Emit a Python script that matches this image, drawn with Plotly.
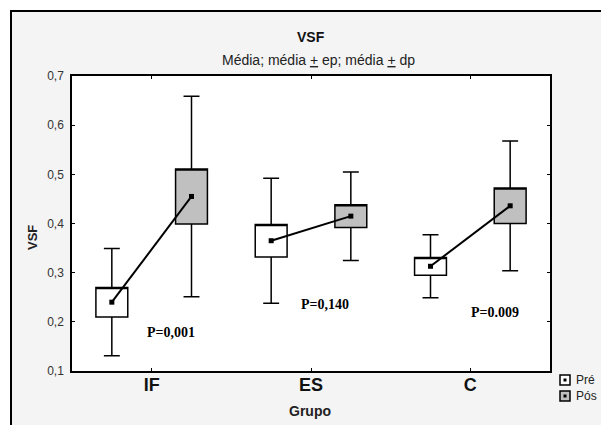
import plotly.graph_objects as go

# ---- data ----
groups = ["IF", "ES", "C"]
pre_mean = [0.240, 0.365, 0.313]
pre_se = [0.030, 0.033, 0.018]
pre_sd = [0.109, 0.127, 0.064]
pos_mean = [0.455, 0.415, 0.436]
pos_se = [0.056, 0.023, 0.036]
pos_sd = [0.204, 0.090, 0.132]
p_labels = ["P=0,001", "P=0,140", "P=0.009"]
p_x = [0.12, 1.09, 2.155]
p_y = [0.179, 0.236, 0.218]
y_ticks = [0.1, 0.2, 0.3, 0.4, 0.5, 0.6, 0.7]
y_ticktext = ["0,1", "0,2", "0,3", "0,4", "0,5", "0,6", "0,7"]

W, H = 601, 425
L, R, T, B = 72, 51, 76, 54
PW, PH = W - L - R, H - T - B


def px(x):
    return (x - L) / PW


def py(y):
    return (H - B - y) / PH


SANS = "Liberation Sans, Arial, sans-serif"
SERIF = "Liberation Serif, Times New Roman, serif"
OFF = 0.25
idx = list(range(len(groups)))

fig = go.Figure()


def add_boxes(offset, mean, se, sd, fill, name):
    xs = [i + offset for i in idx]
    q1 = [m - s for m, s in zip(mean, se)]
    q3 = [m + s for m, s in zip(mean, se)]
    lo = [m - s for m, s in zip(mean, sd)]
    hi = [m + s for m, s in zip(mean, sd)]
    fig.add_trace(go.Box(
        x=xs, q1=q1, median=q3, q3=q3, lowerfence=lo, upperfence=hi,
        width=0.2, whiskerwidth=0.5, boxpoints=False,
        fillcolor=fill, line=dict(color="black", width=1.5),
        name=name, showlegend=False, hoverinfo="skip",
    ))


add_boxes(-OFF, pre_mean, pre_se, pre_sd, "white", "Pré")
add_boxes(OFF, pos_mean, pos_se, pos_sd, "#c0c0c0", "Pós")

for i in idx:
    fig.add_trace(go.Scatter(
        x=[i - OFF, i + OFF], y=[pre_mean[i], pos_mean[i]],
        mode="lines+markers",
        line=dict(color="black", width=2),
        marker=dict(symbol="square", size=5, color="black"),
        showlegend=False, hoverinfo="skip",
    ))

annotations = []
for lab, x, y in zip(p_labels, p_x, p_y):
    annotations.append(dict(
        x=x, y=y, xref="x", yref="y", text="<b>" + lab + "</b>",
        xanchor="center", yanchor="middle",
        showarrow=False, font=dict(family=SERIF, size=14, color="black"),
    ))


def note(x, y, text, size, color="#222", **kw):
    d = dict(x=px(x), y=py(y), xref="paper", yref="paper", text=text,
             xanchor="center", yanchor="middle", showarrow=False,
             font=dict(family=SANS, size=size, color=color))
    d.update(kw)
    return d


annotations += [
    note(311, 37, "<b>VSF</b>", 14, "#111"),
    note(318, 60, 'Média; média <span style="text-decoration:underline">+</span> ep; média '
                  '<span style="text-decoration:underline">+</span> dp', 14),
    note(310, 411, "<b>Grupo</b>", 14),
    note(32, 238, "<b>VSF</b>", 13, textangle=-90),
    note(574, 380, "Pré", 12, xanchor="left"),
    note(574, 396, "Pós", 12, xanchor="left"),
]

shapes = [
    # white outside the frame
    dict(type="rect", xref="paper", yref="paper", x0=px(-20), x1=px(11), y0=py(700), y1=py(-20),
         fillcolor="white", line=dict(width=0), layer="below"),
    dict(type="rect", xref="paper", yref="paper", x0=px(-20), x1=px(700), y0=py(11), y1=py(-20),
         fillcolor="white", line=dict(width=0), layer="below"),
    # frame
    dict(type="rect", xref="paper", yref="paper", x0=px(11), x1=px(720), y0=py(720), y1=py(11),
         line=dict(color="black", width=2)),
]
# legend icons
for yc, fill in [(380, "white"), (396, "#c0c0c0")]:
    shapes.append(dict(type="rect", xref="paper", yref="paper",
                       x0=px(560), x1=px(570), y0=py(yc + 5), y1=py(yc - 5),
                       fillcolor=fill, line=dict(color="black", width=1.5)))
    shapes.append(dict(type="rect", xref="paper", yref="paper",
                       x0=px(563.5), x1=px(566.5), y0=py(yc + 1.5), y1=py(yc - 1.5),
                       fillcolor="black", line=dict(width=0)))

fig.update_layout(
    width=W, height=H,
    margin=dict(l=L, r=R, t=T, b=B, autoexpand=False),
    paper_bgcolor="#f4f4f4", plot_bgcolor="white",
    showlegend=False,
    annotations=annotations, shapes=shapes,
    xaxis=dict(range=[-0.5, 2.5], tickvals=idx, ticktext=["<b>%s</b>" % g for g in groups],
               tickfont=dict(family=SANS, size=18, color="#111"),
               showline=True, linecolor="black", linewidth=1.5, mirror="ticks",
               ticks="inside", ticklen=3, tickcolor="black", showgrid=False, zeroline=False,
               ticklabelstandoff=-3, fixedrange=True),
    yaxis=dict(range=[0.1, 0.7], tickvals=y_ticks, ticktext=y_ticktext,
               tickfont=dict(family=SANS, size=12, color="#333"),
               showline=True, linecolor="black", linewidth=1.5, mirror="ticks",
               ticks="inside", ticklen=3, tickcolor="black", showgrid=False, zeroline=False,
               ticklabelstandoff=4, fixedrange=True),
)

fig.write_html("out.html")
